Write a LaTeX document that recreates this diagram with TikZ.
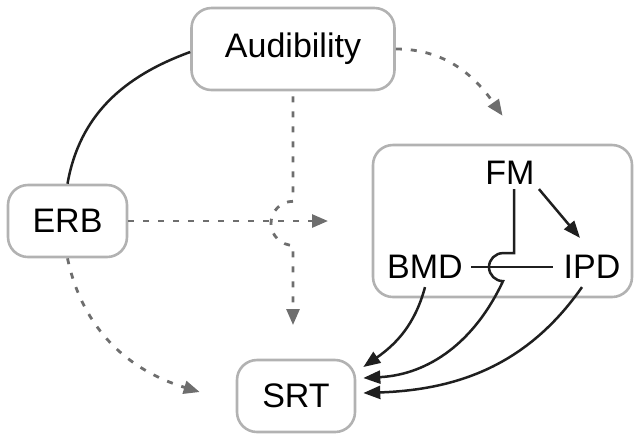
\documentclass[tikz,border=0pt]{standalone}
\usepackage{fontspec}
\setmainfont{Liberation Sans}
\usetikzlibrary{calc}
\usetikzlibrary{arrows.meta}

\tikzset{
  caixa/.style={draw=black!30, line width=1.3pt, rounded corners=10pt, font=\fontsize{17}{20}\selectfont},
  rotulo/.style={inner sep=2pt, font=\fontsize{17}{20}\selectfont},
  liga/.style={draw=black!88, line width=1.25pt},
  seta/.style={liga, -{Triangle[length=8.5pt,width=6.5pt]}},
  pontilhada/.style={draw=black!57, line width=1.4pt, dash pattern=on 3pt off 4.5pt, -{Triangle[length=8pt,width=6.5pt]}},
}

\begin{document}
\begin{tikzpicture}[x=0.5pt, y=0.5pt]

	% A moldura
	\useasboundingbox (0,0) rectangle (635,-436);

	% As caixas
	\node [caixa, minimum width=101.5pt, minimum height=41pt] (aud) at (293,-49) {Audibility};
	\node [caixa, minimum width=59.5pt, minimum height=36pt] (erb) at (67.5,-221) {ERB};
	\node [caixa, minimum width=59pt, minimum height=36pt] (srt) at (296,-396) {SRT};
	\node [caixa, minimum width=129.5pt, minimum height=76pt] (grupo) at (502.5,-221) {};

	% Os rótulos do grupo
	\node [rotulo] (fm) at (510,-173) {FM};
	\node [rotulo] (bmd) at (425,-267) {BMD};
	\node [rotulo] (ipd) at (592,-267) {IPD};

	% As pontas soltas
	\coordinate (pontaG) at ($(grupo.north)+(0,28)$);
	\coordinate (pontaV) at (293,-325);
	\coordinate (pontaE) at (328,-221);
	\coordinate (pontaS) at ($(srt.west)+(-36,4)$);

	% Audibility -- ERB
	\draw [liga] ($(aud.west)+(0,-3)$) to[out=200, in=80] (erb.north);

	% Audibility -> grupo
	\draw [pontilhada] (aud.east) to[out=0, in=125] (pontaG);

	% Audibility -> SRT (com o salto)
	\draw [pontilhada] ($(aud.south)+(0,-5)$) -- ++(0,-105)
		arc [start angle=90, end angle=270, radius=11pt] -- (pontaV);

	% ERB -> meio
	\draw [pontilhada] (erb.east) -- (pontaE);

	% ERB -> SRT
	\draw [pontilhada] (erb.south) to[out=282, in=163] (pontaS);

	% FM -> IPD
	\draw [seta] (fm.south east) -- ($(ipd.north)+(-12,13)$);

	% BMD -- IPD
	\draw [liga, shorten <=2pt, shorten >=3pt] (bmd.east) -- (ipd.west);

	% FM -> SRT (com o salto)
	\draw [seta] ($(fm.south)+(4,0)$) -- ++(0,-64) -- ++(-11,0)
		arc [start angle=90, end angle=270, radius=7pt]
		to[out=245, in=3] ($(srt.east)+(7,18)$);

	% BMD -> SRT
	\draw [seta] ($(bmd.south)+(0,-4)$) to[out=255, in=35] ($(srt.east)+(7,29)$);

	% IPD -> SRT
	\draw [seta] ($(ipd.south)+(-10,-4)$) to[out=235, in=2] ($(srt.east)+(7,3)$);

\end{tikzpicture}
\end{document}
